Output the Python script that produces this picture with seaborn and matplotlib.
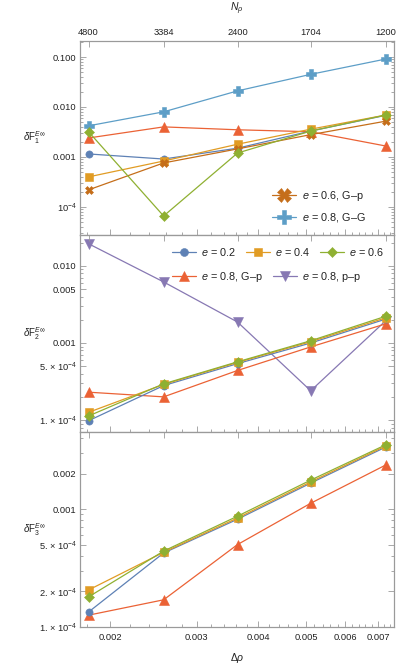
import numpy as np
import pandas as pd
import matplotlib
matplotlib.use('Agg')
import matplotlib.pyplot as plt
import seaborn as sns
from matplotlib.ticker import FixedLocator, FixedFormatter, NullFormatter, NullLocator
from matplotlib.lines import Line2D

# ---------------- data ----------------
Np = [4800, 3384, 2400, 1704, 1200]
np_labels = ['4800', '3384', '2400', '1704', '1200']
drho = [0.00181, 0.00257, 0.00363, 0.00511, 0.00725]

# panel 1 : dF1
f1_e02 = [0.00115, 0.00091, 0.0015, 0.0033, 0.0068]
f1_e04 = [0.00040, 0.00083, 0.0018, 0.0036, 0.0069]
f1_e06 = [0.0032, 6.6e-5, 0.0012, 0.0033, 0.0069]
f1_e08_Gp = [0.0024, 0.0040, 0.0035, 0.0032, 0.00166]
f1_e06_Gp = [0.00022, 0.00076, 0.00145, 0.0028, 0.0052]
f1_e08_GG = [0.0042, 0.0080, 0.021, 0.045, 0.091]

# panel 2 : dF2
f2_e02 = [9.8e-5, 0.00028, 0.00054, 0.00100, 0.00204]
f2_e04 = [0.000126, 0.00029, 0.00056, 0.00104, 0.00212]
f2_e06 = [0.000113, 0.000295, 0.00057, 0.00107, 0.00222]
f2_e08_Gp = [0.00023, 0.00020, 0.00044, 0.00089, 0.00177]
f2_e08_pp = [0.0194, 0.0062, 0.00187, 0.00024, 0.00194]

# panel 3 : dF3
f3_e02 = [0.000134, 0.000424, 0.00082, 0.00166, 0.00335]
f3_e04 = [0.000206, 0.00043, 0.00084, 0.00170, 0.00342]
f3_e06 = [0.00018, 0.00044, 0.00087, 0.00176, 0.00350]
f3_e08_Gp = [0.000126, 0.00017, 0.00050, 0.00112, 0.00236]

# ---------------- style ----------------
sns.set_style('ticks')
plt.rcParams['font.family'] = ['Liberation Sans', 'DejaVu Sans']
plt.rcParams['mathtext.fontset'] = 'custom'
plt.rcParams['mathtext.rm'] = 'Liberation Sans'
plt.rcParams['mathtext.it'] = 'Liberation Sans:italic'
plt.rcParams['mathtext.bf'] = 'Liberation Sans:bold'

C1 = '#5E81B5'; C2 = '#E19C24'; C3 = '#8FB032'; C4 = '#EB6235'
C5 = '#8778B3'; C6 = '#C56E1A'; C7 = '#5D9EC7'
FRAME = '#9a9a9a'
TXT = '#222222'

W, H = 399, 668
fig = plt.figure(figsize=(W / 100, H / 100), dpi=100)


def px_axes(top, bottom, left=80, right=394):
    return fig.add_axes([left / W, 1 - bottom / H, (right - left) / W, (bottom - top) / H])


ax1 = px_axes(41, 235)
ax2 = px_axes(235, 432)
ax3 = px_axes(432, 627)

STY = {
    'e02': dict(color=C1, marker='o', ms=5.2),
    'e04': dict(color=C2, marker='s', ms=5.4),
    'e06': dict(color=C3, marker='D', ms=5.0),
    'e08Gp': dict(color=C4, marker='^', ms=6.6),
    'e08pp': dict(color=C5, marker='v', ms=6.6),
    'e06Gp': dict(color=C6, marker='X', ms=6.4),
    'e08GG': dict(color=C7, marker='P', ms=6.8),
}


def draw(ax, y, key):
    s = STY[key]
    sns.lineplot(x=drho, y=y, ax=ax, color=s['color'], marker=s['marker'],
                 markersize=s['ms'], linewidth=0.9, markeredgecolor=s['color'],
                 markeredgewidth=0.4, legend=False, errorbar=None)


draw(ax1, f1_e08_GG, 'e08GG')
draw(ax1, f1_e08_Gp, 'e08Gp')
draw(ax1, f1_e02, 'e02')
draw(ax1, f1_e04, 'e04')
draw(ax1, f1_e06_Gp, 'e06Gp')
draw(ax1, f1_e06, 'e06')

draw(ax2, f2_e08_pp, 'e08pp')
draw(ax2, f2_e08_Gp, 'e08Gp')
draw(ax2, f2_e02, 'e02')
draw(ax2, f2_e04, 'e04')
draw(ax2, f2_e06, 'e06')

draw(ax3, f3_e08_Gp, 'e08Gp')
draw(ax3, f3_e02, 'e02')
draw(ax3, f3_e04, 'e04')
draw(ax3, f3_e06, 'e06')

XLIM = (0.001739, 0.00754)
xmaj = [0.002, 0.003, 0.004, 0.005, 0.006, 0.007]
xmin = [v / 10000 for v in range(18, 76, 2) if v % 10 != 0]

panels = [
    (ax1, (2.75e-5, 0.209), [0.1, 0.01, 0.001, 1e-4],
     ['0.100', '0.010', '0.001', r'10$^{-4}$'], r'$\delta\mathrm{F}_1^{E\infty}$'),
    (ax2, (7.0e-5, 0.0252), [0.01, 0.005, 0.001, 5e-4, 1e-4],
     ['0.010', '0.005', '0.001', '5. \u00d7 10$^{-4}$', '1. \u00d7 10$^{-4}$'],
     r'$\delta\mathrm{F}_2^{E\infty}$'),
    (ax3, (1.0e-4, 0.0045), [0.002, 0.001, 5e-4, 2e-4, 1e-4],
     ['0.002', '0.001', '5. \u00d7 10$^{-4}$', '2. \u00d7 10$^{-4}$', '1. \u00d7 10$^{-4}$'],
     r'$\delta\mathrm{F}_3^{E\infty}$'),
]

for i, (ax, ylim, yt, ytl, ylab) in enumerate(panels):
    ax.set_xscale('log')
    ax.set_yscale('log')
    ax.set_xlim(*XLIM)
    ax.set_ylim(*ylim)
    ax.xaxis.set_major_locator(FixedLocator(xmaj))
    ax.xaxis.set_minor_locator(FixedLocator(xmin))
    ax.xaxis.set_minor_formatter(NullFormatter())
    if i == 2:
        ax.xaxis.set_major_formatter(FixedFormatter(['0.002', '0.003', '0.004', '0.005', '0.006', '0.007']))
    else:
        ax.xaxis.set_major_formatter(NullFormatter())
    ymin_t = []
    for e in range(-6, 1):
        for k in range(1, 10):
            v = k * 10.0 ** e
            if ylim[0] < v < ylim[1] and not any(abs(v - t) / t < 1e-6 for t in yt):
                ymin_t.append(v)
    ax.yaxis.set_major_locator(FixedLocator(yt))
    ax.yaxis.set_major_formatter(FixedFormatter(ytl))
    ax.yaxis.set_minor_locator(FixedLocator(ymin_t))
    ax.yaxis.set_minor_formatter(NullFormatter())
    ax.tick_params(which='both', direction='in', top=False, right=True,
                   color=FRAME, labelsize=6.7, labelcolor=TXT, pad=2.5, width=0.6)
    ax.tick_params(axis='x', pad=4)
    ax.tick_params(which='major', length=4)
    ax.tick_params(which='minor', length=2)
    for sp in ax.spines.values():
        sp.set_color(FRAME)
        sp.set_linewidth(0.8)
    ax.set_ylabel(ylab, rotation=0, ha='center', va='center', fontsize=7, color=TXT)
    ax.yaxis.set_label_coords(-0.146, 0.5)
    ax.set_xlabel('')

    # top axis: N_p positions
    tw = ax.twiny()
    tw.set_xscale('log')
    tw.set_xlim(*XLIM)
    tw.xaxis.set_major_locator(FixedLocator(drho))
    tw.xaxis.set_minor_locator(NullLocator())
    if i == 0:
        tw.xaxis.set_major_formatter(FixedFormatter(np_labels))
        tw.set_xlabel(r'$N_\rho$', fontsize=7.5, color=TXT, labelpad=12)
    else:
        tw.xaxis.set_major_formatter(NullFormatter())
    tw.tick_params(which='both', direction='in', color=FRAME, labelsize=6.7,
                   labelcolor=TXT, pad=3, length=4, width=0.6)
    for sp in tw.spines.values():
        sp.set_color(FRAME)
        sp.set_linewidth(0.8)

ax3.set_xlabel(r'$\Delta\rho$', fontsize=7.5, color=TXT, labelpad=7)


def handle(key, scale=1.0):
    s = STY[key]
    return Line2D([], [], color=s['color'], marker=s['marker'], markersize=s['ms'] * scale,
                  lw=0.9, markeredgecolor=s['color'], markeredgewidth=0.4)


LFS = 7.8
leg1 = ax1.legend([handle('e06Gp', 1.5), handle('e08GG', 1.4)],
                  ['$e$ = 0.6, G\u2013p', '$e$ = 0.8, G\u2013G'],
                  loc='upper left', bbox_to_anchor=((272 - 80) / 314, 1 - (189 - 41) / 194),
                  frameon=False, fontsize=LFS, handlelength=2.2, handletextpad=0.6,
                  borderpad=0, borderaxespad=0, labelspacing=0.75, labelcolor=TXT)

lgA = ax2.legend([handle('e02', 1.1), handle('e04', 1.1), handle('e06', 1.1)],
                 ['$e$ = 0.2', '$e$ = 0.4', '$e$ = 0.6'], ncol=3,
                 loc='upper left', bbox_to_anchor=((172 - 80) / 314, 1 - (246 - 235) / 197),
                 frameon=False, fontsize=LFS, handlelength=2.2, handletextpad=0.5,
                 columnspacing=0.9, borderpad=0, borderaxespad=0, labelcolor=TXT)
ax2.add_artist(lgA)
lgB = ax2.legend([handle('e08Gp', 1.1), handle('e08pp', 1.1)],
                 ['$e$ = 0.8, G\u2013p', '$e$ = 0.8, p\u2013p'], ncol=2,
                 loc='upper left', bbox_to_anchor=((172 - 80) / 314, 1 - (270 - 235) / 197),
                 frameon=False, fontsize=LFS, handlelength=2.2, handletextpad=0.5,
                 columnspacing=0.9, borderpad=0, borderaxespad=0, labelcolor=TXT)

fig.savefig('out.png', dpi=100)
